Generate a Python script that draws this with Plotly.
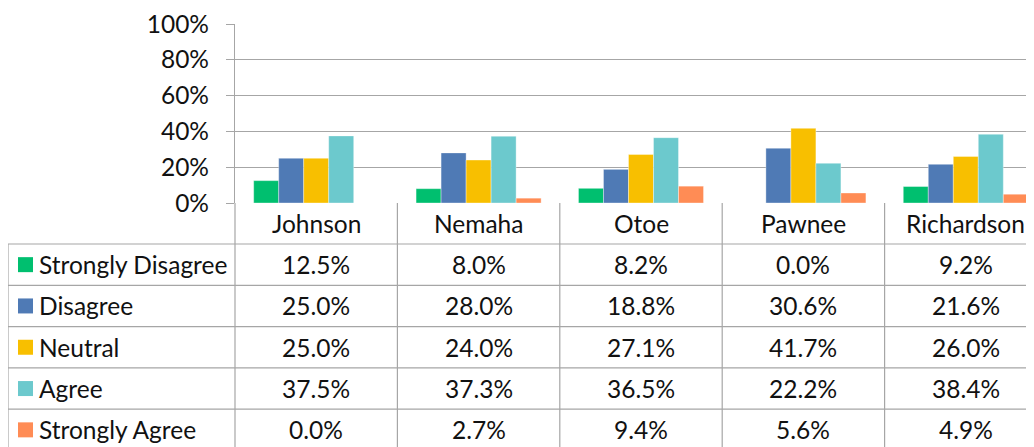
import plotly.graph_objects as go

counties = ["Johnson", "Nemaha", "Otoe", "Pawnee", "Richardson"]
series_names = ["Strongly Disagree", "Disagree", "Neutral", "Agree", "Strongly Agree"]
strongly_disagree = [12.5, 8.0, 8.2, 0.0, 9.2]
disagree = [25.0, 28.0, 18.8, 30.6, 21.6]
neutral = [25.0, 24.0, 27.1, 41.7, 26.0]
agree = [37.5, 37.3, 36.5, 22.2, 38.4]
strongly_agree = [0.0, 2.7, 9.4, 5.6, 4.9]
y_ticks = [0, 0.2, 0.4, 0.6, 0.8, 1.0]

series_values = [strongly_disagree, disagree, neutral, agree, strongly_agree]
colors = ["#00BF6F", "#4F7AB5", "#F8BF00", "#6CC9CD", "#FF8C55"]

# page has an 8px body margin; work in page pixels and convert
OFF = 8
W, H = 1034 - OFF, 447 - OFF
PL, PR, PT, PB = 235, 1034, 24, 203   # page pixels
COL_W = 162.4
FONT = "Lato"
FS = 24.5
TXT = "#111111"
GRID = "#A6A6A6"


def px(x):
    return (x - PL) / (PR - PL)


def py(y):
    return (PB - y) / (PB - PT)


fig = go.Figure()
xs = list(range(len(counties)))
for name, vals, c in zip(series_names, series_values, colors):
    fig.add_trace(go.Bar(
        x=xs, y=[v / 100 for v in vals], name=name,
        marker=dict(color=c, line=dict(color="rgba(255,255,255,0.6)", width=0.6)),
        showlegend=False, hoverinfo="skip",
    ))

shapes = []
annotations = []

row_top = 244
row_h = 41.3
n_rows = len(series_names)
col_lines = [PL + COL_W * i for i in range(1, 6)]
page_bottom = 447 + 10

shapes.append(dict(type="line", xref="paper", yref="paper", x0=0, x1=0,
                   y0=py(PB), y1=py(page_bottom), line=dict(color=GRID, width=1.2)))
for cx in col_lines:
    shapes.append(dict(type="line", xref="paper", yref="paper", x0=px(cx), x1=px(cx),
                       y0=py(PB), y1=py(page_bottom), line=dict(color=GRID, width=1.2)))
shapes.append(dict(type="line", xref="paper", yref="paper", x0=px(8), x1=px(8),
                   y0=py(row_top), y1=py(page_bottom), line=dict(color=GRID, width=1.2)))
for r in range(n_rows + 1):
    yy = row_top + row_h * r
    shapes.append(dict(type="line", xref="paper", yref="paper", x0=px(8), x1=px(1060),
                       y0=py(yy), y1=py(yy), line=dict(color=GRID, width=1.2)))

for i, name in enumerate(counties):
    annotations.append(dict(x=i, xref="x", y=py((PB + row_top) / 2), yref="paper",
                            text=name, showarrow=False, xanchor="center", yanchor="middle",
                            font=dict(family=FONT, size=FS, color=TXT)))

for r, (name, vals, c) in enumerate(zip(series_names, series_values, colors)):
    yc = row_top + row_h * r + row_h / 2
    shapes.append(dict(type="rect", xref="paper", yref="paper",
                       x0=px(18), x1=px(33), y0=py(yc - 7.5), y1=py(yc + 7.5),
                       fillcolor=c, line=dict(width=0)))
    annotations.append(dict(x=px(37), xref="paper", y=py(yc), yref="paper",
                            text=name, showarrow=False, xanchor="left", yanchor="middle",
                            font=dict(family=FONT, size=FS, color=TXT)))
    for i, v in enumerate(vals):
        annotations.append(dict(x=i, xref="x", y=py(yc), yref="paper",
                                text=f"{v:.1f}%", showarrow=False, xanchor="center",
                                yanchor="middle",
                                font=dict(family=FONT, size=FS, color=TXT)))

fig.update_layout(
    width=W, height=H,
    margin=dict(l=PL - OFF, r=1034 - PR, t=PT - OFF, b=447 - PB, pad=0),
    paper_bgcolor="white", plot_bgcolor="white",
    barmode="group", bargap=0.23, bargroupgap=0,
    shapes=shapes, annotations=annotations,
    xaxis=dict(range=[-0.5, -0.5 + (PR - PL) / COL_W], showticklabels=False,
               showgrid=False, zeroline=False, showline=False, fixedrange=True),
    yaxis=dict(range=[0, 1], tickvals=y_ticks, tickformat=".0%",
               showgrid=True, gridcolor=GRID, gridwidth=1.2, zeroline=False,
               showline=True, linecolor=GRID, linewidth=1.2,
               ticks="outside", ticklen=8, tickcolor=GRID, tickwidth=1.2,
               ticklabelstandoff=12,
               tickfont=dict(family=FONT, size=FS, color=TXT), fixedrange=True),
)

fig.write_html("out.html", config={"displayModeBar": False})
